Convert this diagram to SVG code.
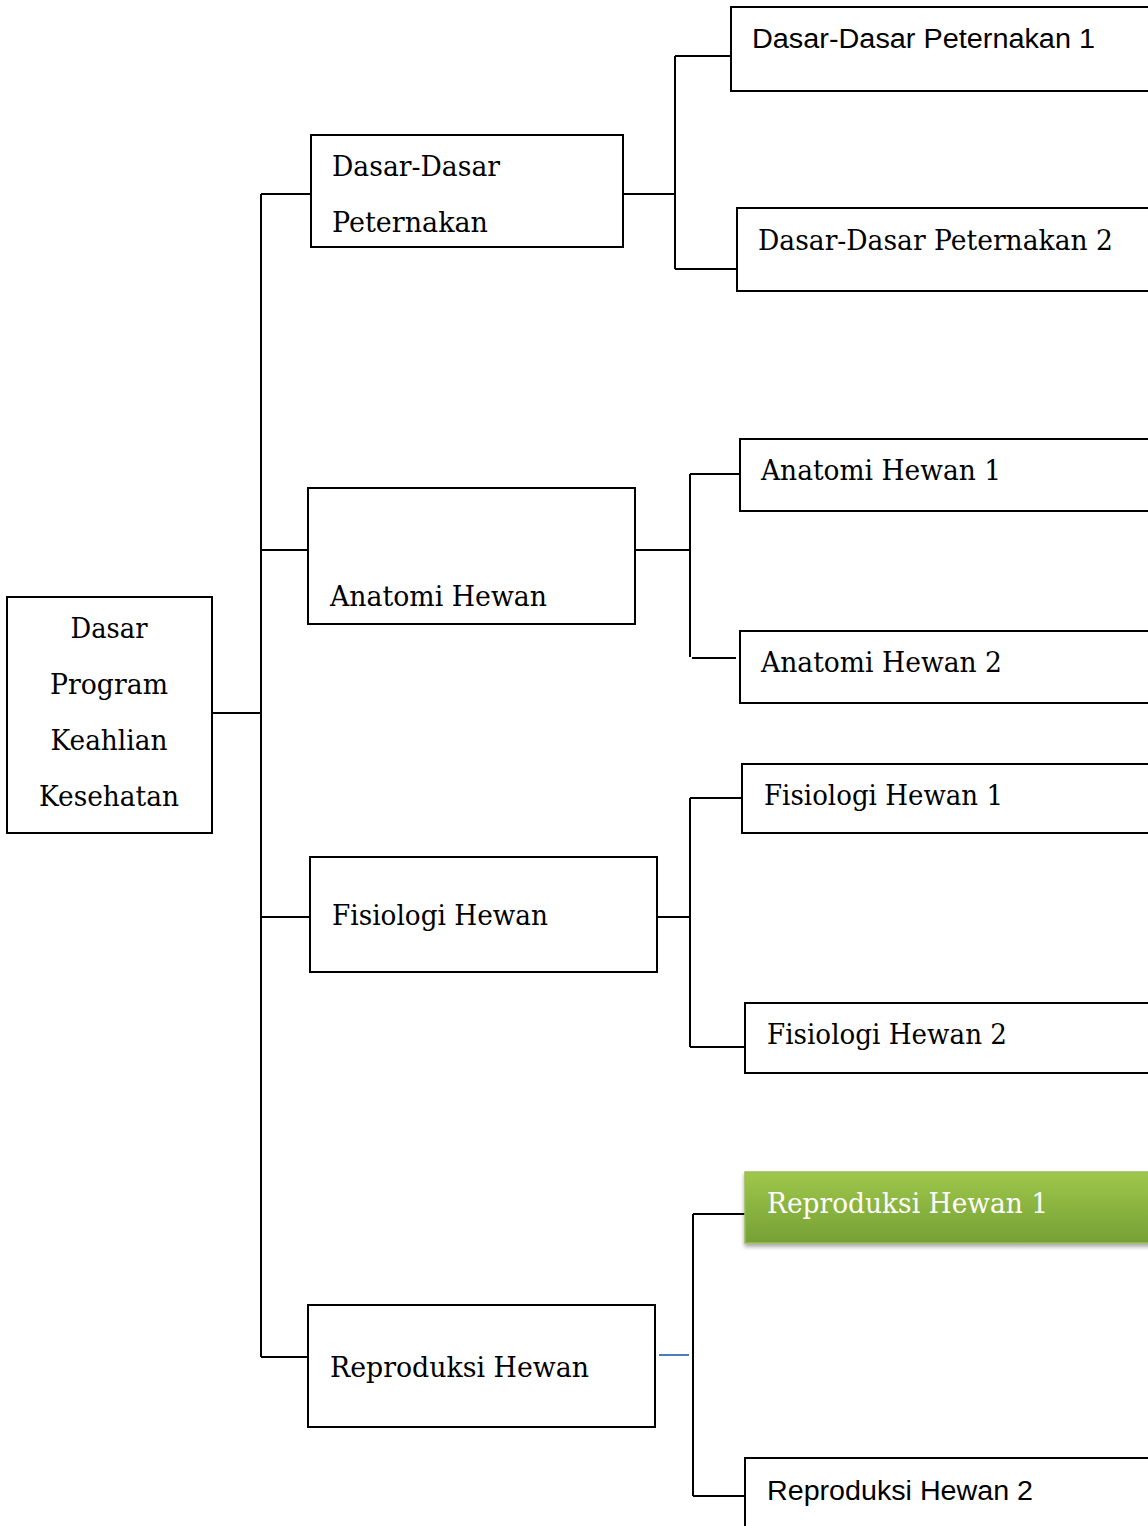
<svg xmlns="http://www.w3.org/2000/svg" width="1148" height="1526" viewBox="0 0 1148 1526">
<style>
.box{fill:#fff;stroke:#000;stroke-width:2}
.ln{stroke:#000;stroke-width:2;fill:none}
.t{font-family:"DejaVu Serif","Liberation Serif",serif;font-size:27.5px;fill:#000}
.s{font-family:"Liberation Sans","Open Sans",sans-serif;font-size:27px;fill:#000}
</style>
<defs>
<linearGradient id="g" x1="0" y1="0" x2="0" y2="1">
<stop offset="0" stop-color="#9ec74a"/>
<stop offset="1" stop-color="#76a036"/>
</linearGradient>
<filter id="sh" x="-5%" y="-20%" width="110%" height="150%">
<feDropShadow dx="0" dy="3" stdDeviation="2" flood-color="#000" flood-opacity="0.35"/>
</filter>
</defs>
<g id="connectors">
<line class="ln" x1="212" y1="713" x2="261" y2="713"/>
<line class="ln" x1="261" y1="194" x2="261" y2="1357"/>
<line class="ln" x1="261" y1="194" x2="311" y2="194"/>
<line class="ln" x1="261" y1="550" x2="308" y2="550"/>
<line class="ln" x1="261" y1="917" x2="310" y2="917"/>
<line class="ln" x1="261" y1="1357" x2="308" y2="1357"/>
<line class="ln" x1="623" y1="194" x2="675" y2="194"/>
<line class="ln" x1="675" y1="56" x2="675" y2="269"/>
<line class="ln" x1="675" y1="56" x2="731" y2="56"/>
<line class="ln" x1="675" y1="269" x2="737" y2="269"/>
<line class="ln" x1="635" y1="550" x2="690" y2="550"/>
<line class="ln" x1="690" y1="474" x2="690" y2="657"/>
<line class="ln" x1="690" y1="474" x2="740" y2="474"/>
<line class="ln" x1="692" y1="658" x2="736" y2="658"/>
<line class="ln" x1="657" y1="917" x2="690" y2="917"/>
<line class="ln" x1="690" y1="798" x2="690" y2="1047"/>
<line class="ln" x1="690" y1="798" x2="742" y2="798"/>
<line class="ln" x1="690" y1="1047" x2="745" y2="1047"/>
<line x1="659" y1="1355" x2="689" y2="1355" stroke="#4a7ebb" stroke-width="2"/>
<line class="ln" x1="693" y1="1214" x2="693" y2="1496"/>
<line class="ln" x1="693" y1="1214" x2="745" y2="1214"/>
<line class="ln" x1="693" y1="1496" x2="745" y2="1496"/>
</g>
<g id="root">
<rect class="box" x="7" y="597" width="205" height="236"/>
<text class="t" x="109" y="638" text-anchor="middle" textLength="77" lengthAdjust="spacingAndGlyphs">Dasar</text>
<text class="t" x="109" y="694" text-anchor="middle" textLength="118" lengthAdjust="spacingAndGlyphs">Program</text>
<text class="t" x="109" y="750" text-anchor="middle" textLength="117" lengthAdjust="spacingAndGlyphs">Keahlian</text>
<text class="t" x="109" y="806" text-anchor="middle" textLength="140" lengthAdjust="spacingAndGlyphs">Kesehatan</text>
</g>
<g id="n-ddp">
<rect class="box" x="311" y="135" width="312" height="112"/>
<text class="t" x="332" y="176" textLength="168" lengthAdjust="spacingAndGlyphs">Dasar-Dasar</text>
<text class="t" x="332" y="232" textLength="156" lengthAdjust="spacingAndGlyphs">Peternakan</text>
</g>
<g id="n-ddp1">
<rect class="box" x="731" y="7" width="430" height="84"/>
<text class="s" x="752" y="48" textLength="343" lengthAdjust="spacingAndGlyphs">Dasar-Dasar Peternakan  1</text>
</g>
<g id="n-ddp2">
<rect class="box" x="737" y="208" width="424" height="83"/>
<text class="t" x="758" y="250" textLength="355" lengthAdjust="spacingAndGlyphs">Dasar-Dasar Peternakan 2</text>
</g>
<g id="n-ah">
<rect class="box" x="308" y="488" width="327" height="136"/>
<text class="t" x="330" y="606" textLength="217" lengthAdjust="spacingAndGlyphs">Anatomi Hewan</text>
</g>
<g id="n-ah1">
<rect class="box" x="740" y="439" width="421" height="72"/>
<text class="t" x="761" y="480" textLength="240" lengthAdjust="spacingAndGlyphs">Anatomi Hewan 1</text>
</g>
<g id="n-ah2">
<rect class="box" x="740" y="631" width="421" height="72"/>
<text class="t" x="761" y="672" textLength="241" lengthAdjust="spacingAndGlyphs">Anatomi Hewan 2</text>
</g>
<g id="n-fh">
<rect class="box" x="310" y="857" width="347" height="115"/>
<text class="t" x="332" y="925" textLength="216" lengthAdjust="spacingAndGlyphs">Fisiologi Hewan</text>
</g>
<g id="n-fh1">
<rect class="box" x="742" y="764" width="419" height="69"/>
<text class="t" x="764" y="805" textLength="239" lengthAdjust="spacingAndGlyphs">Fisiologi Hewan 1</text>
</g>
<g id="n-fh2">
<rect class="box" x="745" y="1003" width="416" height="70"/>
<text class="t" x="767" y="1044" textLength="240" lengthAdjust="spacingAndGlyphs">Fisiologi Hewan 2</text>
</g>
<g id="n-rh">
<rect class="box" x="308" y="1305" width="347" height="122"/>
<text class="t" x="330" y="1377" textLength="259" lengthAdjust="spacingAndGlyphs">Reproduksi Hewan</text>
</g>
<g id="n-rh1">
<rect x="745" y="1172" width="416" height="71" fill="url(#g)" stroke="#9bbb59" stroke-width="1.5" filter="url(#sh)"/>
<text class="t" x="767" y="1213" style="fill:#fff" textLength="281" lengthAdjust="spacingAndGlyphs">Reproduksi Hewan 1</text>
</g>
<g id="n-rh2">
<rect class="box" x="745" y="1458" width="416" height="80"/>
<text class="s" x="767" y="1500" textLength="266" lengthAdjust="spacingAndGlyphs">Reproduksi Hewan 2</text>
</g>
</svg>
